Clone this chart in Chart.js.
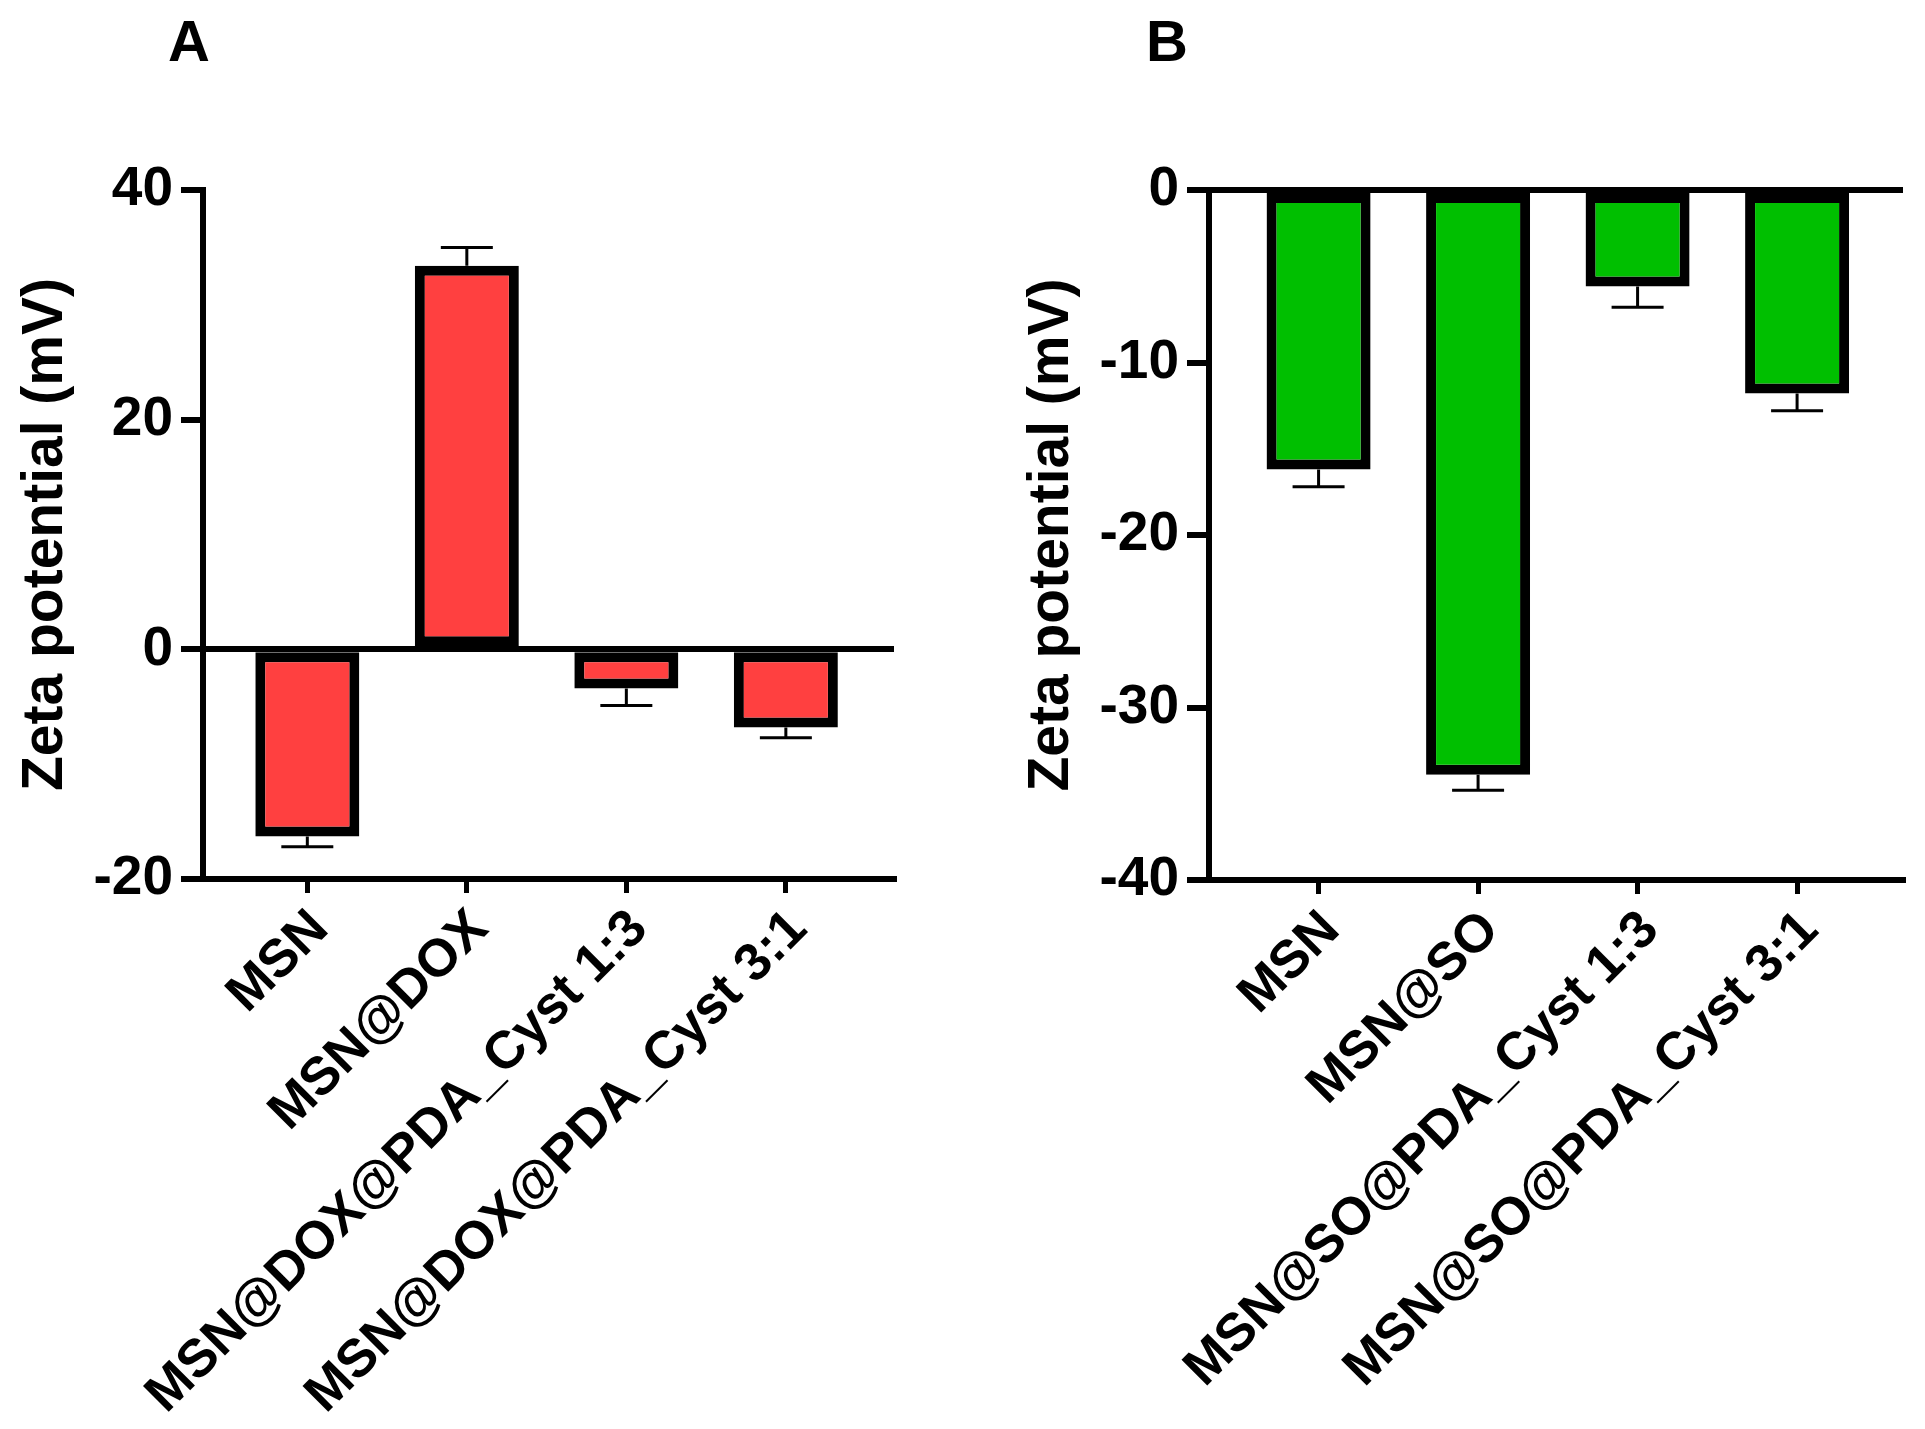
<!DOCTYPE html>
<html>
<head>
<meta charset="utf-8">
<script src="https://cdn.jsdelivr.net/npm/chart.js@4.4.0/dist/chart.umd.min.js"></script>
<style>
  html, body { margin: 0; padding: 0; background: #ffffff; }
  #wrap { position: relative; width: 1925px; height: 1429px; overflow: hidden; background: #fff; }
  .panel { position: absolute; top: 0; }
  .letter { position: absolute; font-family: 'Liberation Sans', Arial, sans-serif; font-weight: bold; font-size: 58px; color: #000; line-height: 1; }
</style>
</head>
<body>
<div id="wrap">
  <div class="letter" style="left:168px; top:12px;">A</div>
  <div class="letter" style="left:1146px; top:12px;">B</div>
  <canvas id="chartA" class="panel" style="left:0px;" width="960" height="1429"></canvas>
  <canvas id="chartB" class="panel" style="left:960px;" width="965" height="1429"></canvas>
</div>
<script>
// ---- Data ----
const categoriesA = ['MSN', 'MSN@DOX', 'MSN@DOX@PDA_Cyst 1:3', 'MSN@DOX@PDA_Cyst 3:1'];
const valuesA = [-16.3, 33.4, -3.4, -6.8];
const errorsA = [0.9, 1.6, 1.5, 0.9];
const yTicksA = [-20, 0, 20, 40];

const categoriesB = ['MSN', 'MSN@SO', 'MSN@SO@PDA_Cyst 1:3', 'MSN@SO@PDA_Cyst 3:1'];
const valuesB = [-16.2, -33.9, -5.6, -11.8];
const errorsB = [1.0, 0.9, 1.2, 1.0];
const yTicksB = [-40, -30, -20, -10, 0];

const yTitle = 'Zeta potential (mV)';
const FONT = "'Liberation Sans', Arial, Helvetica, sans-serif";

// ---- Error bar plugin ----
const errorBarPlugin = {
  id: 'errbars',
  afterDatasetsDraw(chart, args, opts) {
    const errs = opts.errors || [];
    const meta = chart.getDatasetMeta(0);
    const ys = chart.scales.y;
    const ctx = chart.ctx;
    const data = chart.data.datasets[0].data;
    ctx.save();
    ctx.strokeStyle = '#000';
    ctx.lineWidth = 3;
    meta.data.forEach((bar, i) => {
      const v = data[i].y;
      const e = errs[i];
      const end = v >= 0 ? v + e : v - e;
      const x = bar.x;
      const y0 = ys.getPixelForValue(v);
      const y1 = ys.getPixelForValue(end);
      ctx.beginPath();
      ctx.moveTo(x, y0);
      ctx.lineTo(x, y1);
      ctx.moveTo(x - 26, y1);
      ctx.lineTo(x + 26, y1);
      ctx.stroke();
    });
    ctx.restore();
  }
};

function makeChart(id, cats, vals, errs, yTicks, color, g) {
  const ctx = document.getElementById(id).getContext('2d');
  return new Chart(ctx, {
    type: 'bar',
    data: {
      datasets: [{
        data: vals.map((v, i) => ({ x: i, y: v })),
        backgroundColor: color,
        borderColor: '#000',
        borderWidth: 10,
        borderSkipped: false,
        barPercentage: 0.652,
        categoryPercentage: 1.0
      }]
    },
    plugins: [errorBarPlugin],
    options: {
      responsive: false,
      animation: false,
      devicePixelRatio: 1,
      layout: { padding: { top: g.top, right: g.right, left: 0, bottom: 0 } },
      plugins: {
        legend: { display: false },
        tooltip: { enabled: false },
        errbars: { errors: errs }
      },
      scales: {
        x: {
          type: 'linear',
          offset: false,
          min: g.xMin,
          max: g.xMax,
          afterBuildTicks: (s) => { s.ticks = cats.map((c, i) => ({ value: i })); },
          afterFit: (s) => { s.height = g.xHeight; },
          ticks: {
            autoSkip: false,
            minRotation: 45,
            maxRotation: 45,
            padding: 5,
            labelOffset: 13,
            color: '#000',
            font: { family: FONT, size: 53, weight: 'bold' },
            callback: (v) => cats[v]
          },
          grid: {
            offset: false,
            drawOnChartArea: false,
            color: '#000',
            tickColor: '#000',
            tickLength: 14,
            tickWidth: 5,
            lineWidth: 5
          },
          border: { display: true, color: '#000', width: 6 }
        },
        y: {
          min: yTicks[0],
          max: yTicks[yTicks.length - 1],
          afterBuildTicks: (s) => { s.ticks = yTicks.map(v => ({ value: v })); },
          afterFit: (s) => { s.width = g.yWidth; },
          ticks: {
            color: '#000',
            padding: 8,
            font: { family: FONT, size: 55, weight: 'bold' },
            callback: (v) => String(v)
          },
          grid: {
            drawOnChartArea: true,
            color: (c) => (c.tick && c.tick.value === 0) ? '#000' : 'rgba(0,0,0,0)',
            tickColor: '#000',
            tickLength: 22,
            tickWidth: 6,
            lineWidth: 6
          },
          border: { display: true, color: '#000', width: 6 },
          title: {
            display: true,
            text: yTitle,
            color: '#000',
            font: { family: FONT, size: 57, weight: 'bold' },
            padding: { top: g.titlePad, bottom: 0 }
          }
        }
      }
    }
  });
}

makeChart('chartA', categoriesA, valuesA, errorsA, yTicksA, '#FF4040', {
  top: 190, right: 960 - 894, yWidth: 203, xHeight: 1429 - 879,
  xMin: -0.654, xMax: 3.678, titlePad: 12
});
makeChart('chartB', categoriesB, valuesB, errorsB, yTicksB, '#00BF00', {
  top: 190, right: 965 - 943, yWidth: 249, xHeight: 1429 - 880,
  xMin: -0.687, xMax: 3.664, titlePad: 58
});
</script>
</body>
</html>
